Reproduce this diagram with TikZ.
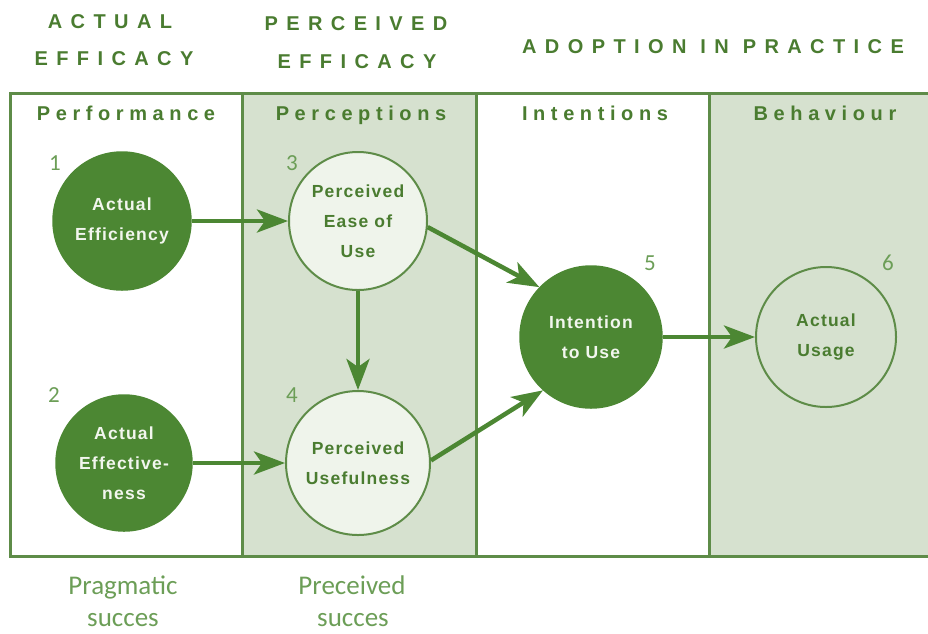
\documentclass[tikz,border=0pt]{standalone}
\usepackage{fontspec}
\setmainfont{Liberation Sans}
\newfontfamily\capsfont[LetterSpace=42]{Liberation Sans}
\newfontfamily\rowfont[LetterSpace=28]{Liberation Sans}
\newfontfamily\circfont[LetterSpace=7]{Liberation Sans}
\newfontfamily\notefont{Carlito}
\usetikzlibrary{arrows.meta}

\definecolor{dkgreen}{HTML}{4C8733}
\definecolor{framegreen}{HTML}{5E8C48}
\definecolor{colshade}{HTML}{D6E1CF}
\definecolor{lightfill}{HTML}{EFF4EB}
\definecolor{headgreen}{HTML}{4A7C30}
\definecolor{softgreen}{HTML}{6C9E57}
\definecolor{whitish}{HTML}{F2F6EE}

\tikzset{
  heading/.style={anchor=base, inner sep=0pt, text=headgreen,
    font=\capsfont\bfseries\fontsize{20}{24}\selectfont},
  rowlabel/.style={anchor=base, inner sep=0pt, text=headgreen,
    font=\rowfont\bfseries\fontsize{20}{24}\selectfont},
  numlabel/.style={anchor=base, inner sep=0pt, text=softgreen,
    font=\notefont\fontsize{23}{26}\selectfont},
  note/.style={anchor=base, inner sep=0pt, text=softgreen,
    font=\notefont\fontsize{27}{30}\selectfont},
  stage/.style={circle, inner sep=0pt, align=center,
    font=\circfont\bfseries\fontsize{17.5}{30}\selectfont},
  darkstage/.style={stage, fill=dkgreen, draw=dkgreen, line width=1.5pt, text=whitish},
  lightstage/.style={stage, fill=lightfill, draw=framegreen, line width=2pt, text=headgreen},
  openstage/.style={stage, draw=framegreen, line width=2pt, text=headgreen},
  frameline/.style={draw=framegreen, line width=3pt},
  arr/.style={draw=dkgreen, line width=4.5pt,
    -{Stealth[length=31pt, width=23pt, inset=8pt]}}
}

\begin{document}
\begin{tikzpicture}[x=1pt, y=-1pt]
  \useasboundingbox (0,0) rectangle (928,633);

  % shaded columns
  \fill[colshade] (242,93) rectangle (476,556);
  \fill[colshade] (709,93) rectangle (928,556);

  % frame and column dividers
  \draw[frameline] (928,93) -- (10,93) -- (10,556) -- (928,556);
  \draw[frameline] (242,93) -- (242,556);
  \draw[frameline] (476,93) -- (476,556);
  \draw[frameline] (709,93) -- (709,556);

  % group headings
  \node[heading] (hA1) at (110,28) {ACTUAL};
  \node[heading] (hA2) at (114,65) {EFFICACY};
  \node[heading] (hP1) at (356,30) {PERCEIVED};
  \node[heading] (hP2) at (357,68) {EFFICACY};
  \node[heading] (hD)  at (713,53) {ADOPTION IN PRACTICE};

  % column headings
  \node[rowlabel] (r1) at (126,120) {Performance};
  \node[rowlabel] (r2) at (361,120) {Perceptions};
  \node[rowlabel] (r3) at (595,120) {Intentions};
  \node[rowlabel] (r4) at (825,120) {Behaviour};

  % stages
  \node[darkstage, minimum size=138pt] (c1) at (122,221) {Actual\\Efficiency};
  \node[darkstage, minimum size=136pt] (c2) at (124,463) {Actual\\Effective-\\ness};
  \node[lightstage, minimum size=138pt] (c3) at (358,221) {Perceived\\Ease of\\Use};
  \node[lightstage, minimum size=144pt] (c4) at (358,463) {Perceived\\Usefulness};
  \node[darkstage, minimum size=142pt] (c5) at (591,337) {Intention\\to Use};
  \node[openstage, minimum size=140pt] (c6) at (826,337) {Actual\\Usage};

  % stage numbers
  \node[numlabel] (n1) at (55,170) {1};
  \node[numlabel] (n2) at (54,402) {2};
  \node[numlabel] (n3) at (292,170) {3};
  \node[numlabel] (n4) at (292,402) {4};
  \node[numlabel] (n5) at (650,270) {5};
  \node[numlabel] (n6) at (888,270) {6};

  % connectors
  \draw[arr] (c1) -- (c3);
  \draw[arr] (c2) -- (c4);
  \draw[arr] (c3) -- (c4);
  \draw[arr] (c3.-5) -- (c5.136);
  \draw[arr] (c4.2) -- (c5.-132);
  \draw[arr] (c5) -- (c6);

  % footnotes under the columns
  \node[note] (f1a) at (123,594) {Pragmatic};
  \node[note] (f1b) at (123,626) {succes};
  \node[note] (f2a) at (352,594) {Preceived};
  \node[note] (f2b) at (353,626) {succes};
\end{tikzpicture}
\end{document}
